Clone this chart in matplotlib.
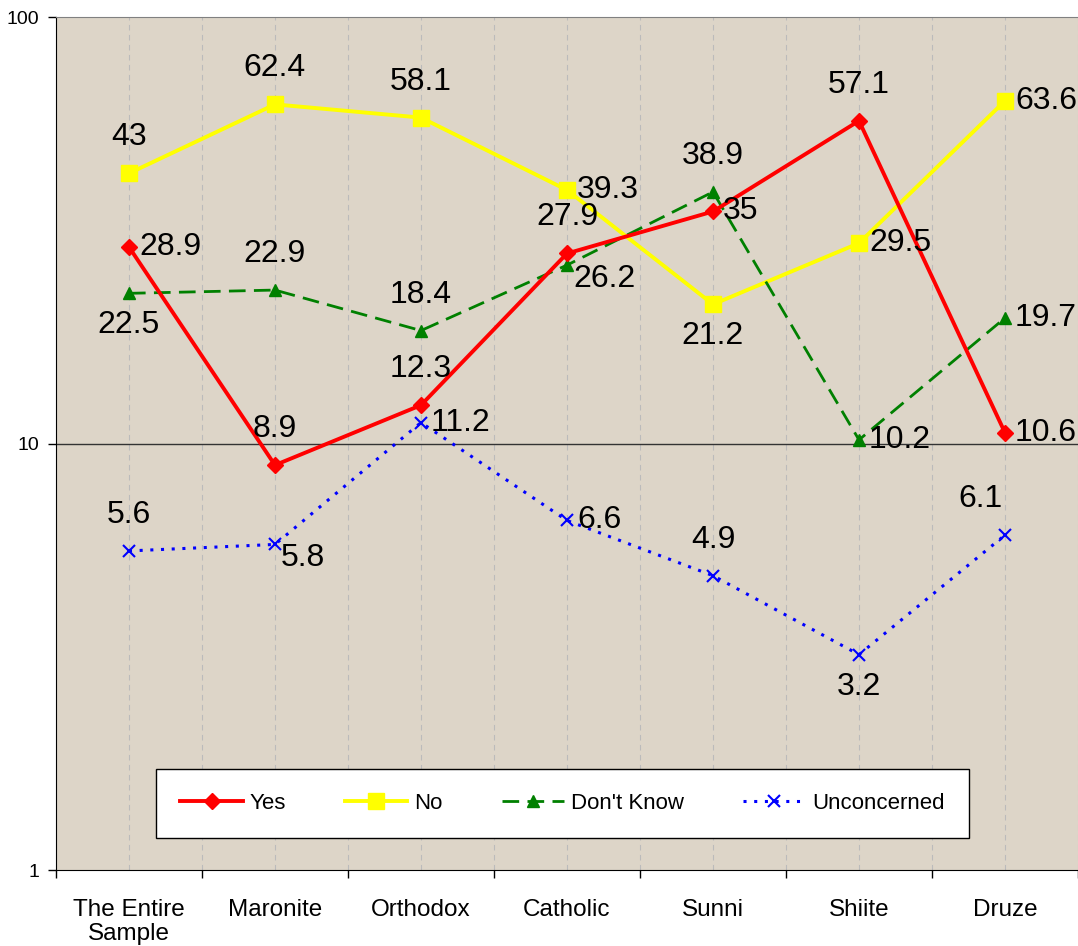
import matplotlib
matplotlib.use("Agg")
import matplotlib.pyplot as plt
from matplotlib.ticker import FixedLocator, NullFormatter, NullLocator

plt.rcParams['font.family'] = ['Liberation Sans', 'DejaVu Sans']

categories = ["The Entire\nSample", "Maronite", "Orthodox", "Catholic",
              "Sunni", "Shiite", "Druze"]
yes = [28.9, 8.9, 12.3, 27.9, 35, 57.1, 10.6]
no = [43, 62.4, 58.1, 39.3, 21.2, 29.5, 63.6]
dont_know = [22.5, 22.9, 18.4, 26.2, 38.9, 10.2, 19.7]
unconcerned = [5.6, 5.8, 11.2, 6.6, 4.9, 3.2, 6.1]

# where each value label sits relative to its point: a=above, b=below, r=right, l=above-left
yes_pos = ["r", "a", "a", "a", "r", "a", "r"]
no_pos = ["a", "a", "a", "r", "b", "r", "r"]
dk_pos = ["b", "a", "a", "rb", "a", "r", "r"]
unc_pos = ["a", "rb", "r", "r", "a", "b", "l"]

fig = plt.figure(figsize=(10.78, 9.46), dpi=100)
ax = fig.add_axes([0.0519, 0.0803, 0.9481, 0.9017])
ax.set_facecolor('#DDD5C8')

x = list(range(len(categories)))

ax.plot(x, yes, color='#FF0000', lw=2.8, marker='D', ms=8, label='Yes', zorder=5)
ax.plot(x, no, color='#FFFF00', lw=2.8, marker='s', ms=11, label='No', zorder=4)
ax.plot(x, dont_know, color='#008000', lw=2, ls=(0, (6, 3)), marker='^', ms=9,
        label="Don't Know", zorder=4)
ax.plot(x, unconcerned, color='#0000FF', lw=2.2, ls=(0, (1, 2.5)), marker='x', ms=9,
        mew=1.5, label='Unconcerned', zorder=4)

offsets = {"a": (0, 36, 'center', 'center'),
           "b": (0, -32, 'center', 'center'),
           "r": (10, 0, 'left', 'center'),
           "rb": (6, -14, 'left', 'center'),
           "l": (-2, 36, 'right', 'center')}

for vals, poss in [(yes, yes_pos), (no, no_pos), (dont_know, dk_pos), (unconcerned, unc_pos)]:
    for xi, v, p in zip(x, vals, poss):
        dx, dy, ha, va = offsets[p]
        ax.annotate(f"{v:g}", (xi, v), xytext=(dx, dy), textcoords='offset pixels',
                    ha=ha, va=va, fontsize=23, color='black', zorder=6)

ax.set_yscale('log')
ax.set_ylim(1, 100)
ax.set_xlim(-0.5, 6.5)
ax.yaxis.set_major_locator(FixedLocator([1, 10, 100]))
ax.yaxis.set_minor_locator(NullLocator())
ax.set_yticklabels(["1", "10", "100"], fontsize=14)
ax.axhline(10, color='#333333', lw=1, zorder=2)

ax.set_xticks(x)
ax.set_xticklabels(categories, fontsize=17.5, linespacing=1.1)
ax.set_xticks([i - 0.5 for i in range(len(categories) + 1)], minor=True)
ax.xaxis.set_minor_formatter(NullFormatter())
ax.tick_params(axis='x', which='major', length=0, pad=21)
ax.tick_params(axis='x', which='minor', length=6, width=1)
ax.tick_params(axis='y', length=6, width=1, pad=6)
ax.grid(True, axis='x', which='both', color='#BBBBBB', ls=(0, (5, 4)), lw=0.8, zorder=1)

ax.spines['top'].set_color('#808080')
ax.spines['right'].set_visible(False)
ax.spines['left'].set_color('black')
ax.spines['bottom'].set_color('black')

leg = ax.legend(loc='center', ncol=4, mode='expand',
                bbox_to_anchor=(0.087, 0.035, 0.817, 0.086),
                fontsize=16, frameon=True, fancybox=False, handlelength=2.8,
                handletextpad=0.3, borderpad=1.1)
leg.get_frame().set_edgecolor('black')
leg.get_frame().set_facecolor('white')
leg.get_frame().set_alpha(1)

fig.savefig('out.png', dpi=100)
